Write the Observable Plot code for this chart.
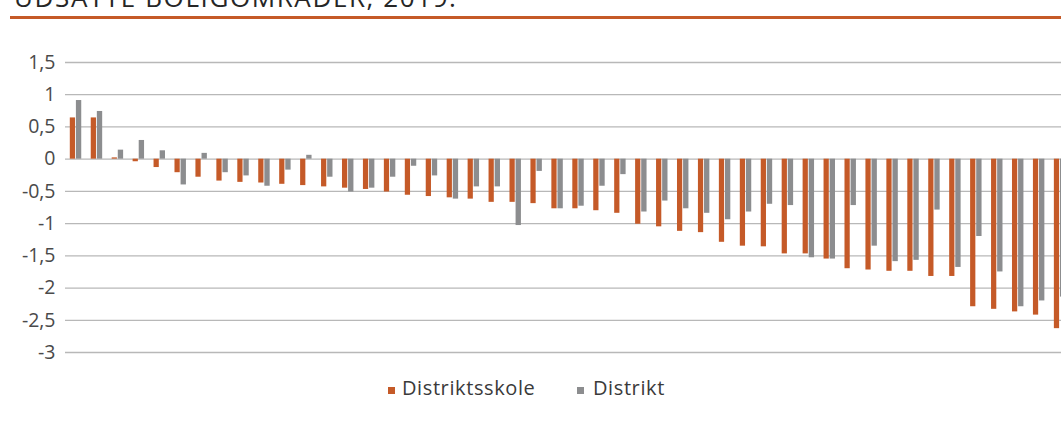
<!DOCTYPE html>
<html><head><meta charset="utf-8">
<script src="https://cdn.jsdelivr.net/npm/d3@7"></script>
<script src="https://cdn.jsdelivr.net/npm/@observablehq/plot@0.6"></script>
<style>
html,body{margin:0;padding:0;background:#fff;overflow:hidden;width:1061px;height:424px;}
#wrap{position:relative;width:1061px;height:424px;overflow:hidden;font-family:"Open Sans",sans-serif;font-weight:400;color:#444;}
#title{position:absolute;left:14px;top:-16px;font-size:26px;line-height:26px;letter-spacing:1.6px;color:#262626;white-space:nowrap;}
#rule{position:absolute;left:10px;width:1100px;top:15.5px;height:3px;background:#c55a28;}
#chart{position:absolute;left:0;top:0;width:1075px;}
#chart svg{max-width:none !important;}
.leg{position:absolute;top:375px;font-size:20px;line-height:26px;letter-spacing:0.6px;white-space:nowrap;color:#3a3a3a;}
.sw{position:absolute;width:6.5px;height:6.5px;top:387px;}
</style>
</head><body>
<div id="wrap">
  <div id="title">UDSATTE BOLIGOMRÅDER, 2019.</div>
  <div id="rule"></div>
  <div id="chart"></div>
  <div class="sw" id="sw0"></div><div class="leg" id="lg0"></div>
  <div class="sw" id="sw1"></div><div class="leg" id="lg1"></div>
</div>
<script>
const seriesNames = ["Distriktsskole", "Distrikt"];
const seriesColors = ["#c55a28", "#8c8d8f"];
const categories = [1,2,3,4,5,6,7,8,9,10,11,12,13,14,15,16,17,18,19,20,21,22,23,24,25,26,27,28,29,30,31,32,33,34,35,36,37,38,39,40,41,42,43,44,45,46,47,48];
const distriktsskole = [0.64,0.64,0.02,-0.04,-0.13,-0.21,-0.28,-0.34,-0.36,-0.37,-0.39,-0.41,-0.43,-0.45,-0.47,-0.51,-0.56,-0.58,-0.60,-0.62,-0.67,-0.67,-0.69,-0.77,-0.77,-0.80,-0.84,-1.01,-1.05,-1.12,-1.14,-1.29,-1.35,-1.36,-1.47,-1.47,-1.55,-1.70,-1.72,-1.74,-1.74,-1.82,-1.82,-2.29,-2.33,-2.37,-2.42,-2.63];
const distrikt = [0.91,0.74,0.14,0.29,0.13,-0.40,0.09,-0.21,-0.26,-0.42,-0.17,0.06,-0.28,-0.51,-0.45,-0.28,-0.11,-0.26,-0.62,-0.43,-0.43,-1.03,-0.19,-0.77,-0.73,-0.42,-0.24,-0.82,-0.65,-0.77,-0.84,-0.94,-0.82,-0.70,-0.72,-1.53,-1.55,-0.72,-1.35,-1.59,-1.57,-0.79,-1.68,-1.20,-1.75,-2.29,-2.20,-2.14];
const yTicks = [1.5,1,0.5,0,-0.5,-1,-1.5,-2,-2.5,-3];
const yTickLabels = ["1,5","1","0,5","0","-0,5","-1","-1,5","-2","-2,5","-3"];

const rows0 = categories.map((c,i) => ({cat:c, value:distriktsskole[i]}));
const rows1 = categories.map((c,i) => ({cat:c, value:distrikt[i]}));

const chart = Plot.plot({
  width: 1075,
  height: 370,
  marginLeft: 65,
  marginRight: 5,
  marginTop: 62,
  marginBottom: 18,
  style: {fontFamily: '"Open Sans", sans-serif', fontWeight: 400, color: "#4a4a4a", background: "transparent", overflow: "visible", maxWidth: "none"},
  x: {type: "band", domain: categories, padding: 0, axis: null},
  y: {domain: [-3, 1.5]},
  marks: [
    Plot.ruleY(yTicks, {stroke: "#b8b8b8", strokeWidth: 1.3}),
    Plot.barY(rows0, {x: "cat", y: "value", fill: seriesColors[0], insetLeft: 4.8, insetRight: 10.9}),
    Plot.barY(rows1, {x: "cat", y: "value", fill: seriesColors[1], insetLeft: 10.9, insetRight: 4.7}),
    Plot.axisY({ticks: yTicks, tickFormat: d => yTickLabels[yTicks.indexOf(d)], tickSize: 0, tickPadding: 10, label: null, fontSize: 19.5})
  ]
});
document.getElementById("chart").appendChild(chart);

const legX = [388, 577];
const txtX = [402, 593];
seriesNames.forEach((n,i) => {
  const sw = document.getElementById("sw"+i);
  sw.style.left = legX[i] + "px"; sw.style.background = seriesColors[i];
  const lg = document.getElementById("lg"+i);
  lg.style.left = txtX[i] + "px"; lg.textContent = n;
});
</script>
</body></html>
